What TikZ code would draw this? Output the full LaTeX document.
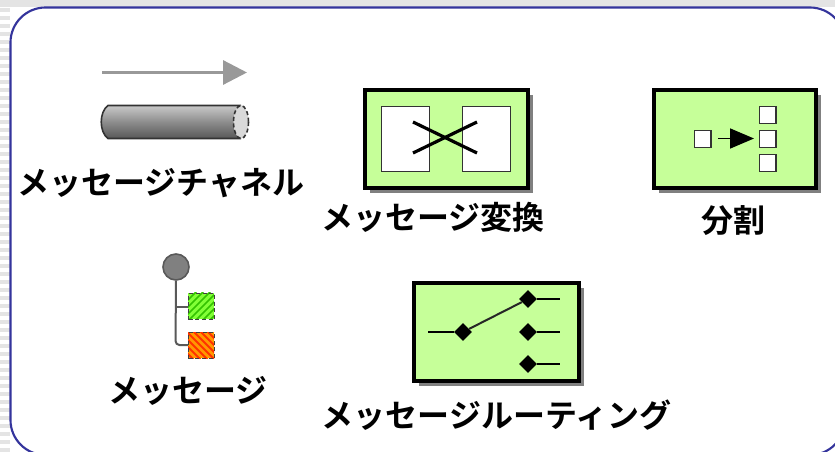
\documentclass[tikz,border=0pt]{standalone}
\usepackage{fontspec}
\setmainfont{Noto Sans CJK JP}[BoldFont={Noto Sans CJK JP Bold}]
\usetikzlibrary{arrows.meta,calc}
\definecolor{panelblue}{HTML}{34349C}
\definecolor{boxgreen}{HTML}{C6FF99}
\definecolor{stripegrey}{HTML}{E4E4E4}
\definecolor{shadowgrey}{HTML}{808080}
\definecolor{chgrey}{HTML}{999999}
\tikzset{
 x=0.75pt,y=-0.75pt,
 label text/.style={font=\bfseries\fontsize{24pt}{24pt}\selectfont,inner sep=0pt,text=black},
 wire/.style={line width=1.3pt,black},
 whitebox/.style={draw=black!80,fill=white,line width=1.1pt,inner sep=0pt,anchor=north west},
 jointdot/.style={fill=black,draw=none,diamond,minimum size=13.5pt,inner sep=0pt},
}
\usetikzlibrary{shapes.geometric}
\newcommand{\greenbox}[5]{%
 \fill[shadowgrey] (#2+7,#3+7) rectangle (#4+7,#5+7);
 \node[draw=black,fill=boxgreen,line width=3pt,inner sep=0pt,anchor=north west,minimum width=#4*0.75pt-#2*0.75pt,minimum height=#5*0.75pt-#3*0.75pt] (#1) at (#2,#3) {};
}
\begin{document}
\begin{tikzpicture}
\useasboundingbox (0,0) rectangle (835,452);
\fill[white] (0,0) rectangle (835,452);
% striped page background
\foreach \yy in {0,8,...,448}{\fill[stripegrey] (0,\yy) rectangle (10,\yy+4);}
\fill[stripegrey] (0,0) rectangle (835,7);
\begin{scope}
\clip (0,0) rectangle (835,452);
\draw[panelblue,line width=1.6pt,fill=white,rounded corners=26.25pt] (10.5,7.5) rectangle (845,455);
\end{scope}
% channel
\coordinate (chs) at (102,72.5);
\coordinate (che) at (247,72.5);
\draw[chgrey,line width=2.4pt,-{Triangle[length=18pt,width=18pt]}] (chs) -- (che);
\node[inner sep=0pt,minimum width=0pt] (pipe) at (175,122) {};
\shade[top color=black!22,bottom color=black!65,middle color=black!45] (108,106) -- (241,106) -- (241,138) -- (108,138) .. controls (99,132) and (99,112) .. (108,106) -- cycle;
\draw[black!80,line width=1.2pt] (241,105.5) -- (108,105.5) .. controls (99,112) and (99,132) .. (108,138.5) -- (241,138.5);
\draw[black!80,fill=black!15,line width=1.2pt,densely dashed] (241,122) ellipse [x radius=7.5,y radius=16.5];
\node[label text] (t1) at (161,183) {メッセージチャネル};
% translator
\greenbox{trans}{363}{88}{526}{186}
\node[whitebox,minimum width=36pt,minimum height=48.75pt] (tl) at (381,106) {};
\node[whitebox,minimum width=36pt,minimum height=48.75pt] (tr) at (462,106) {};
\coordinate (xa) at (413,122);\coordinate (xb) at (477,153);
\coordinate (xc) at (413,153);\coordinate (xd) at (477,122);
\draw[black,line width=2.4pt] (xa) -- (xb) (xc) -- (xd);
\node[label text] (t2) at (433,217) {メッセージ変換};
% splitter
\greenbox{split}{652}{88}{814}{186}
\node[whitebox,minimum size=12.5pt] (s0) at (693.5,130) {};
\node[whitebox,minimum size=12.5pt] (s1) at (758.5,106) {};
\node[whitebox,minimum size=12.5pt] (s2) at (758.5,130) {};
\node[whitebox,minimum size=12.5pt] (s3) at (758.5,154) {};
\coordinate (sa) at (718,138.5);\coordinate (sb) at (754,138.5);
\draw[black,line width=1.2pt,-{Triangle[length=18pt,width=15pt]}] (sa) -- (sb);
\node[label text] (t3) at (733.5,221) {分割};
% message
\coordinate (mj) at (175.5,307);\coordinate (mk) at (188,345);
\node[circle,draw=black!65,fill=black!50,line width=1.2pt,minimum size=19.5pt,inner sep=0pt] (mc) at (176,267) {};
\draw[black!65,line width=1.5pt,rounded corners=3pt] (mc.south) -- (175.5,345) -- (mk);
\draw[black!65,line width=1.5pt] (mj) -- (188,307);
\begin{scope}
\clip (188,293) rectangle (214,319);
\fill[green!60!yellow!90!black] (188,293) rectangle (214,319);
\fill[white!30!green!70!yellow] (188,293) rectangle (214,319);
\foreach \k in {-2,...,10}{\draw[green!70!black!80!yellow,line width=1.3pt] (188+\k*7-8,322) -- (188+\k*7+24,290);}
\end{scope}
\node[draw=black!75,line width=1.1pt,densely dashed,minimum size=19.5pt,inner sep=0pt,anchor=north west] (mg) at (188,293) {};
\begin{scope}
\clip (188,332) rectangle (214,358);
\fill[orange!80!yellow] (188,332) rectangle (214,358);
\foreach \k in {-6,...,6}{\draw[red!60!orange,line width=1.5pt] (188+\k*7-4,329) -- (188+\k*7+28,361);}
\end{scope}
\node[draw=black!75,line width=1.1pt,densely dashed,minimum size=19.5pt,inner sep=0pt,anchor=north west] (mo) at (188,332) {};
\node[label text] (t4) at (188,391) {メッセージ};
% router
\greenbox{route}{412}{281}{577}{379}
\node[jointdot] (r0) at (463,332) {};
\node[jointdot] (r1) at (528,299) {};
\node[jointdot] (r2) at (528,332) {};
\node[jointdot] (r3) at (528,364) {};
\coordinate (ri) at (428,332);\coordinate (o1) at (560,299);\coordinate (o2) at (560,332);\coordinate (o3) at (560,364);
\draw[wire] (ri) -- (r0) (r1) -- (o1) (r2) -- (o2) (r3) -- (o3);
\draw[black!85,line width=1.5pt] (r0) -- (r1);
\node[label text] (t5) at (496.5,415) {メッセージルーティング};
\end{tikzpicture}
\end{document}
